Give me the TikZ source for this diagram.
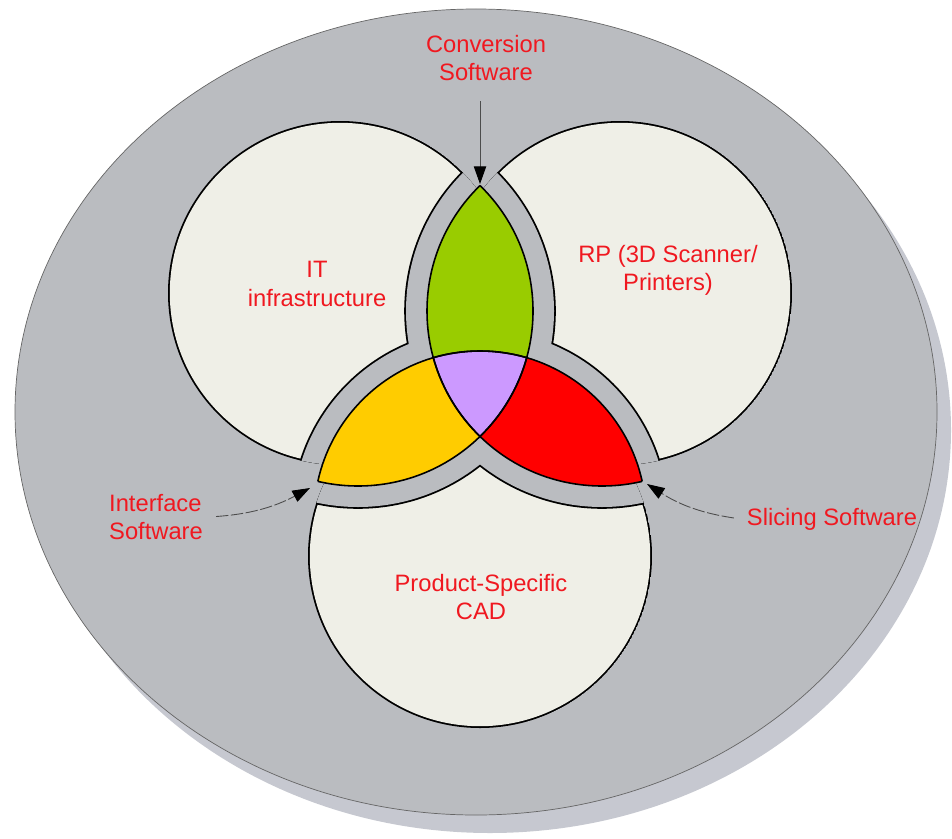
\documentclass[tikz,border=0pt]{standalone}
\usepackage{fontspec}
\setmainfont{Liberation Sans}
\usetikzlibrary{arrows.meta}

\definecolor{ringgrey}{RGB}{186,188,192}
\definecolor{shadowgrey}{RGB}{198,200,208}
\definecolor{paper}{RGB}{239,239,231}
\definecolor{labelred}{RGB}{240,24,32}
\definecolor{lensgreen}{RGB}{153,204,0}
\definecolor{lensyellow}{RGB}{255,204,0}
\definecolor{lensred}{RGB}{255,0,0}
\definecolor{lenspurple}{RGB}{204,153,255}

\begin{document}
\begin{tikzpicture}[x=0.02cm, y=-0.02cm,
    label text/.style={text=labelred, font=\fontsize{13.5}{16}\selectfont, align=center},
    pointer/.style={draw=black!70, line width=0.5pt, -{Triangle[length=10pt,width=7pt,color=black]}},
    lens edge/.style={draw=black, line width=0.9pt}]
  \useasboundingbox (0,0) rectangle (952,838);

  % Radii (outer discs, lenses, gap round the lenses, outline)
  \def\outr{172}
  \def\lensr{175}
  \def\cadr{166}
  \def\gap{21}
  \def\lw{1.8}

  % Centres
  \coordinate (itc) at (340,293);
  \coordinate (rpc) at (620,293);
  \coordinate (cadc) at (480,556);
  \coordinate (itlens) at (358,311);
  \coordinate (rplens) at (602,311);
  \coordinate (cadlens) at (480,517);

  % Background disc with its shadow
  \fill[shadowgrey] (490,430) ellipse [x radius=461, y radius=403];
  \draw[fill=ringgrey, draw=black!60, line width=0.4pt] (476,412) ellipse [x radius=461, y radius=403];

  % IT disc, cut back round the other lenses
  \begin{scope}
    \clip (itc) circle [radius=\outr];
    \fill[black] (itc) circle [radius=\outr];
    \fill[paper] (itc) circle [radius=\outr-\lw];
    \fill[black] (rplens) circle [radius=\lensr+\gap+\lw] (cadlens) circle [radius=\cadr+\gap+\lw];
    \fill[ringgrey] (rplens) circle [radius=\lensr+\gap] (cadlens) circle [radius=\cadr+\gap];
  \end{scope}

  % RP disc
  \begin{scope}
    \clip (rpc) circle [radius=\outr];
    \fill[black] (rpc) circle [radius=\outr];
    \fill[paper] (rpc) circle [radius=\outr-\lw];
    \fill[black] (itlens) circle [radius=\lensr+\gap+\lw] (cadlens) circle [radius=\cadr+\gap+\lw];
    \fill[ringgrey] (itlens) circle [radius=\lensr+\gap] (cadlens) circle [radius=\cadr+\gap];
  \end{scope}

  % CAD disc
  \begin{scope}
    \clip (cadc) circle [radius=\outr];
    \fill[black] (cadc) circle [radius=\outr];
    \fill[paper] (cadc) circle [radius=\outr-\lw];
    \fill[black] (itlens) circle [radius=\lensr+\gap+\lw] (rplens) circle [radius=\lensr+\gap+\lw];
    \fill[ringgrey] (itlens) circle [radius=\lensr+\gap] (rplens) circle [radius=\lensr+\gap];
  \end{scope}

  % Overlaps
  \begin{scope}
    \clip (itlens) circle [radius=\lensr];
    \fill[lensgreen] (rplens) circle [radius=\lensr];
    \fill[lensyellow] (cadlens) circle [radius=\cadr];
  \end{scope}
  \begin{scope}
    \clip (rplens) circle [radius=\lensr];
    \fill[lensred] (cadlens) circle [radius=\cadr];
  \end{scope}
  \begin{scope}
    \clip (itlens) circle [radius=\lensr];
    \clip (rplens) circle [radius=\lensr];
    \fill[lenspurple] (cadlens) circle [radius=\cadr];
  \end{scope}

  % Overlap outlines
  \begin{scope}
    \clip (rplens) circle [radius=\lensr];
    \draw[lens edge] (itlens) circle [radius=\lensr];
    \draw[lens edge] (cadlens) circle [radius=\cadr];
  \end{scope}
  \begin{scope}
    \clip (itlens) circle [radius=\lensr];
    \draw[lens edge] (rplens) circle [radius=\lensr];
    \draw[lens edge] (cadlens) circle [radius=\cadr];
  \end{scope}
  \begin{scope}
    \clip (cadlens) circle [radius=\cadr];
    \draw[lens edge] (itlens) circle [radius=\lensr];
    \draw[lens edge] (rplens) circle [radius=\lensr];
  \end{scope}

  % Labels
  \node[label text] (itlabel) at (317,284) {IT\\infrastructure};
  \node[label text] (rplabel) at (668,270) {RP (3D Scanner/\\Printers)};
  \node[label text] (cadlabel) at (481,597) {Product-Specific\\CAD};
  \node[label text] (conv) at (486,58) {Conversion\\Software};
  \node[label text, align=left] (iface) at (156,517) {Interface\\Software};
  \node[label text] (slice) at (832,519) {Slicing Software};

  % Arrows
  \coordinate (convtip) at (480,184);
  \coordinate (ifacetip) at (310,488);
  \coordinate (slicetip) at (647,484);
  \draw[pointer, shorten <=8pt] (conv.south -| convtip) -- (convtip);
  \draw[pointer, dash pattern=on 7pt off 1.5pt, shorten <=4pt] (iface.east) to[bend right=12] (ifacetip);
  \draw[pointer, dash pattern=on 7pt off 1.5pt, shorten <=4pt] (slice.west) to[bend left=12] (slicetip);
\end{tikzpicture}
\end{document}
